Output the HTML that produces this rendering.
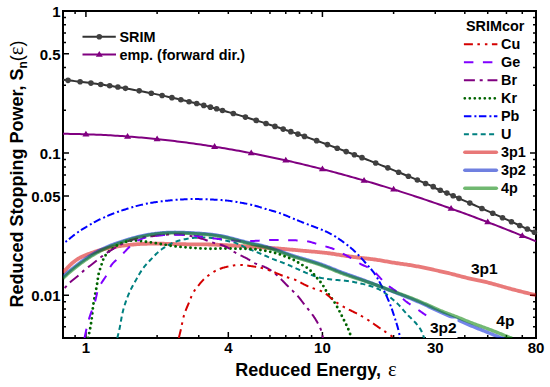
<!DOCTYPE html>
<html><head><meta charset="utf-8"><style>
html,body{margin:0;padding:0;background:#fff;width:550px;height:387px;overflow:hidden}
svg{display:block}
</style></head><body>
<svg width="550" height="387" viewBox="0 0 550 387">
<rect width="550" height="387" fill="#fff"/>
<path d="M75.10 338 v-3 M75.10 11 v3 M85.92 338 v-6 M85.92 11 v6 M157.11 338 v-3 M157.11 11 v3 M198.76 338 v-3 M198.76 11 v3 M228.31 338 v-6 M228.31 11 v3 M251.23 338 v-3 M251.23 11 v3 M269.95 338 v-3 M269.95 11 v3 M285.78 338 v-3 M285.78 11 v3 M299.50 338 v-3 M299.50 11 v3 M311.60 338 v-3 M311.60 11 v3 M322.42 338 v-6 M322.42 11 v6 M393.61 338 v-3 M393.61 11 v3 M435.26 338 v-6 M435.26 11 v3 M464.81 338 v-3 M464.81 11 v3 M487.73 338 v-3 M487.73 11 v3 M506.45 338 v-3 M506.45 11 v3 M522.28 338 v-3 M522.28 11 v3 M536.00 338 v-6 M536.00 11 v3 M63 326.75 h3 M536 326.75 h-3 M63 317.23 h3 M536 317.23 h-3 M63 308.99 h3 M536 308.99 h-3 M63 301.72 h3 M536 301.72 h-3 M63 295.22 h6 M536 295.22 h-6 M63 252.44 h3 M536 252.44 h-3 M63 227.42 h3 M536 227.42 h-3 M63 209.66 h3 M536 209.66 h-3 M63 195.89 h6 M536 195.89 h-3 M63 184.64 h3 M536 184.64 h-3 M63 175.12 h3 M536 175.12 h-3 M63 166.88 h3 M536 166.88 h-3 M63 159.61 h3 M536 159.61 h-3 M63 153.11 h6 M536 153.11 h-6 M63 110.33 h3 M536 110.33 h-3 M63 85.31 h3 M536 85.31 h-3 M63 67.55 h3 M536 67.55 h-3 M63 53.78 h6 M536 53.78 h-3 M63 42.53 h3 M536 42.53 h-3 M63 33.01 h3 M536 33.01 h-3 M63 24.77 h3 M536 24.77 h-3 M63 17.50 h3 M536 17.50 h-3 M63 11.00 h6 M536 11.00 h-6" stroke="#000" stroke-width="1.5" fill="none"/>
<rect x="63" y="11" width="473" height="327" stroke="#000" stroke-width="2" fill="none"/>
<g font-family='"Liberation Sans", sans-serif' font-weight="bold" font-size="15" fill="#000"><text x="60.5" y="17.2" text-anchor="end">1</text><text x="60.5" y="60.0" text-anchor="end">0.5</text><text x="60.5" y="159.3" text-anchor="end">0.1</text><text x="60.5" y="202.1" text-anchor="end">0.05</text><text x="60.5" y="301.4" text-anchor="end">0.01</text><text x="85.9" y="353.3" text-anchor="middle">1</text><text x="228.3" y="353.3" text-anchor="middle">4</text><text x="322.4" y="353.3" text-anchor="middle">10</text><text x="435.3" y="353.3" text-anchor="middle">30</text><text x="536.0" y="353.3" text-anchor="middle">80</text></g>
<text x="316" y="375.5" text-anchor="middle" font-family='"Liberation Sans", sans-serif' font-weight="bold" font-size="18">Reduced Energy, <tspan font-family="Liberation Serif" font-weight="normal" font-size="20.5" dx="2">ε</tspan></text>
<text transform="translate(23,174) rotate(-90)" text-anchor="middle" font-family='"Liberation Sans", sans-serif' font-weight="bold" font-size="18">Reduced Stopping Power, S<tspan font-size="12" dy="4">n</tspan><tspan dy="-4" font-weight="normal">(<tspan font-family="Liberation Serif" font-size="20.5">ε</tspan>)</tspan></text>
<path d="M63.00 79.86 L65.38 80.09 L67.75 80.34 L70.13 80.59 L72.51 80.85 L74.88 81.12 L77.26 81.39 L79.64 81.67 L82.02 81.95 L84.39 82.25 L86.77 82.54 L89.15 82.85 L91.52 83.16 L93.90 83.48 L96.28 83.81 L98.65 84.14 L101.03 84.48 L103.41 84.82 L105.78 85.18 L108.16 85.54 L110.54 85.90 L112.91 86.27 L115.29 86.65 L117.67 87.04 L120.05 87.43 L122.42 87.83 L124.80 88.24 L127.18 88.65 L129.55 89.07 L131.93 89.50 L134.31 89.93 L136.68 90.37 L139.06 90.81 L141.44 91.26 L143.81 91.72 L146.19 92.19 L148.57 92.66 L150.94 93.14 L153.32 93.62 L155.70 94.11 L158.08 94.61 L160.45 95.12 L162.83 95.63 L165.21 96.14 L167.58 96.67 L169.96 97.20 L172.34 97.73 L174.71 98.27 L177.09 98.82 L179.47 99.38 L181.84 99.94 L184.22 100.50 L186.60 101.08 L188.97 101.66 L191.35 102.24 L193.73 102.83 L196.11 103.43 L198.48 104.03 L200.86 104.64 L203.24 105.25 L205.61 105.87 L207.99 106.50 L210.37 107.13 L212.74 107.77 L215.12 108.41 L217.50 109.06 L219.87 109.72 L222.25 110.38 L224.63 111.04 L227.01 111.72 L229.38 112.39 L231.76 113.08 L234.14 113.76 L236.51 114.46 L238.89 115.15 L241.27 115.86 L243.64 116.57 L246.02 117.28 L248.40 118.00 L250.77 118.73 L253.15 119.46 L255.53 120.19 L257.90 120.93 L260.28 121.67 L262.66 122.42 L265.04 123.18 L267.41 123.94 L269.79 124.70 L272.17 125.47 L274.54 126.24 L276.92 127.02 L279.30 127.80 L281.67 128.59 L284.05 129.38 L286.43 130.18 L288.80 130.98 L291.18 131.79 L293.56 132.60 L295.93 133.41 L298.31 134.23 L300.69 135.05 L303.07 135.88 L305.44 136.71 L307.82 137.55 L310.20 138.39 L312.57 139.23 L314.95 140.08 L317.33 140.93 L319.70 141.79 L322.08 142.65 L324.46 143.51 L326.83 144.38 L329.21 145.25 L331.59 146.13 L333.96 147.01 L336.34 147.89 L338.72 148.78 L341.10 149.67 L343.47 150.56 L345.85 151.46 L348.23 152.36 L350.60 153.27 L352.98 154.18 L355.36 155.09 L357.73 156.00 L360.11 156.92 L362.49 157.84 L364.86 158.77 L367.24 159.70 L369.62 160.63 L371.99 161.57 L374.37 162.50 L376.75 163.45 L379.13 164.39 L381.50 165.34 L383.88 166.29 L386.26 167.24 L388.63 168.20 L391.01 169.16 L393.39 170.13 L395.76 171.09 L398.14 172.06 L400.52 173.03 L402.89 174.01 L405.27 174.99 L407.65 175.97 L410.03 176.95 L412.40 177.94 L414.78 178.93 L417.16 179.92 L419.53 180.91 L421.91 181.91 L424.29 182.91 L426.66 183.91 L429.04 184.92 L431.42 185.92 L433.79 186.93 L436.17 188.53 L438.55 189.54 L440.92 190.55 L443.30 191.57 L445.68 192.59 L448.06 193.61 L450.43 194.64 L452.81 195.66 L455.19 196.69 L457.56 197.73 L459.94 198.76 L462.32 199.80 L464.69 200.84 L467.07 201.88 L469.45 202.92 L471.82 203.97 L474.20 205.02 L476.58 206.07 L478.95 207.13 L481.33 208.18 L483.71 209.24 L486.09 210.30 L488.46 211.36 L490.84 212.43 L493.22 213.50 L495.59 214.56 L497.97 215.64 L500.35 216.71 L502.72 217.78 L505.10 218.86 L507.48 219.94 L509.85 221.02 L512.23 222.11 L514.61 223.19 L516.98 224.28 L519.36 225.37 L521.74 226.46 L524.12 227.55 L526.49 228.64 L528.87 229.74 L531.25 230.84 L533.62 231.94 L536.00 233.04" stroke="#333" stroke-width="2" fill="none"/>
<g fill="#404040"><circle cx="68.01" cy="80.37" r="2.8"/><circle cx="80.11" cy="81.72" r="2.8"/><circle cx="90.93" cy="83.08" r="2.8"/><circle cx="100.72" cy="84.43" r="2.8"/><circle cx="109.66" cy="85.77" r="2.8"/><circle cx="117.88" cy="87.07" r="2.8"/><circle cx="125.49" cy="88.36" r="2.8"/><circle cx="139.20" cy="90.84" r="2.8"/><circle cx="151.30" cy="93.21" r="2.8"/><circle cx="162.12" cy="95.47" r="2.8"/><circle cx="171.91" cy="97.64" r="2.8"/><circle cx="180.85" cy="99.70" r="2.8"/><circle cx="189.07" cy="101.68" r="2.8"/><circle cx="196.68" cy="103.57" r="2.8"/><circle cx="203.77" cy="105.39" r="2.8"/><circle cx="210.40" cy="107.14" r="2.8"/><circle cx="216.63" cy="108.82" r="2.8"/><circle cx="222.50" cy="110.45" r="2.8"/><circle cx="233.32" cy="113.53" r="2.8"/><circle cx="245.42" cy="117.10" r="2.8"/><circle cx="256.24" cy="120.41" r="2.8"/><circle cx="266.03" cy="123.49" r="2.8"/><circle cx="274.96" cy="126.38" r="2.8"/><circle cx="283.18" cy="129.10" r="2.8"/><circle cx="290.80" cy="131.66" r="2.8"/><circle cx="297.88" cy="134.08" r="2.8"/><circle cx="304.51" cy="136.39" r="2.8"/><circle cx="316.61" cy="140.67" r="2.8"/><circle cx="327.43" cy="144.60" r="2.8"/><circle cx="337.22" cy="148.22" r="2.8"/><circle cx="346.16" cy="151.58" r="2.8"/><circle cx="354.38" cy="154.71" r="2.8"/><circle cx="361.99" cy="157.65" r="2.8"/><circle cx="375.70" cy="163.03" r="2.8"/><circle cx="387.80" cy="167.87" r="2.8"/><circle cx="398.62" cy="172.26" r="2.8"/><circle cx="408.41" cy="176.28" r="2.8"/><circle cx="417.35" cy="180.00" r="2.8"/><circle cx="425.57" cy="183.45" r="2.8"/><circle cx="433.18" cy="186.67" r="2.8"/><circle cx="440.27" cy="190.28" r="2.8"/><circle cx="446.90" cy="193.11" r="2.8"/><circle cx="453.13" cy="195.80" r="2.8"/><circle cx="459.00" cy="198.35" r="2.8"/><circle cx="469.82" cy="203.09" r="2.8"/><circle cx="481.92" cy="208.44" r="2.8"/><circle cx="492.74" cy="213.28" r="2.8"/><circle cx="502.53" cy="217.70" r="2.8"/><circle cx="511.46" cy="221.76" r="2.8"/><circle cx="519.68" cy="225.51" r="2.8"/><circle cx="527.30" cy="229.01" r="2.8"/><circle cx="534.38" cy="232.29" r="2.8"/></g>
<path d="M63.00 133.83 L65.38 133.85 L67.75 133.87 L70.13 133.90 L72.51 133.94 L74.88 133.99 L77.26 134.04 L79.64 134.09 L82.02 134.15 L84.39 134.22 L86.77 134.30 L89.15 134.38 L91.52 134.46 L93.90 134.55 L96.28 134.65 L98.65 134.75 L101.03 134.86 L103.41 134.98 L105.78 135.10 L108.16 135.23 L110.54 135.36 L112.91 135.50 L115.29 135.64 L117.67 135.79 L120.05 135.95 L122.42 136.11 L124.80 136.28 L127.18 136.45 L129.55 136.63 L131.93 136.82 L134.31 137.01 L136.68 137.20 L139.06 137.40 L141.44 137.61 L143.81 137.82 L146.19 138.04 L148.57 138.27 L150.94 138.50 L153.32 138.73 L155.70 138.97 L158.08 139.22 L160.45 139.47 L162.83 139.73 L165.21 139.99 L167.58 140.26 L169.96 140.54 L172.34 140.82 L174.71 141.10 L177.09 141.40 L179.47 141.69 L181.84 141.99 L184.22 142.30 L186.60 142.61 L188.97 142.93 L191.35 143.26 L193.73 143.59 L196.11 143.92 L198.48 144.26 L200.86 144.61 L203.24 144.96 L205.61 145.31 L207.99 145.67 L210.37 146.04 L212.74 146.41 L215.12 146.79 L217.50 147.17 L219.87 147.56 L222.25 147.95 L224.63 148.35 L227.01 148.76 L229.38 149.17 L231.76 149.58 L234.14 150.00 L236.51 150.42 L238.89 150.85 L241.27 151.29 L243.64 151.73 L246.02 152.17 L248.40 152.62 L250.77 153.08 L253.15 153.54 L255.53 154.01 L257.90 154.48 L260.28 154.95 L262.66 155.43 L265.04 155.92 L267.41 156.41 L269.79 156.91 L272.17 157.41 L274.54 157.91 L276.92 158.42 L279.30 158.94 L281.67 159.46 L284.05 159.99 L286.43 160.52 L288.80 161.05 L291.18 161.59 L293.56 162.14 L295.93 162.69 L298.31 163.25 L300.69 163.81 L303.07 164.37 L305.44 164.94 L307.82 165.52 L310.20 166.10 L312.57 166.68 L314.95 167.27 L317.33 167.86 L319.70 168.46 L322.08 169.06 L324.46 169.67 L326.83 170.29 L329.21 170.90 L331.59 171.53 L333.96 172.15 L336.34 172.79 L338.72 173.42 L341.10 174.06 L343.47 174.71 L345.85 175.36 L348.23 176.01 L350.60 176.67 L352.98 177.34 L355.36 178.01 L357.73 178.68 L360.11 179.36 L362.49 180.04 L364.86 180.73 L367.24 181.42 L369.62 182.12 L371.99 182.82 L374.37 183.52 L376.75 184.23 L379.13 184.95 L381.50 185.67 L383.88 186.39 L386.26 187.12 L388.63 187.85 L391.01 188.59 L393.39 189.33 L395.76 190.07 L398.14 190.82 L400.52 191.58 L402.89 192.33 L405.27 193.10 L407.65 193.86 L410.03 194.63 L412.40 195.41 L414.78 196.19 L417.16 196.97 L419.53 197.76 L421.91 198.56 L424.29 199.35 L426.66 200.15 L429.04 200.96 L431.42 201.77 L433.79 202.58 L436.17 203.40 L438.55 204.22 L440.92 205.05 L443.30 205.88 L445.68 206.71 L448.06 207.55 L450.43 208.40 L452.81 209.24 L455.19 210.09 L457.56 210.95 L459.94 211.81 L462.32 212.67 L464.69 213.54 L467.07 214.41 L469.45 215.29 L471.82 216.17 L474.20 217.05 L476.58 217.94 L478.95 218.83 L481.33 219.72 L483.71 220.62 L486.09 221.53 L488.46 222.43 L490.84 223.34 L493.22 224.26 L495.59 225.18 L497.97 226.10 L500.35 227.03 L502.72 227.96 L505.10 228.89 L507.48 229.83 L509.85 230.77 L512.23 231.72 L514.61 232.67 L516.98 233.62 L519.36 234.58 L521.74 235.54 L524.12 236.50 L526.49 237.47 L528.87 238.44 L531.25 239.42 L533.62 240.40 L536.00 241.38" stroke="#800080" stroke-width="2" fill="none"/>
<path fill="#800080" d="M85.92 130.67 L89.42 136.47 L82.42 136.47Z M127.56 132.88 L131.06 138.68 L124.06 138.68Z M157.11 135.52 L160.61 141.32 L153.61 141.32Z M214.59 143.11 L218.09 148.91 L211.09 148.91Z M251.23 149.57 L254.73 155.37 L247.73 155.37Z M285.78 156.77 L289.28 162.57 L282.28 162.57Z M322.42 165.55 L325.92 171.35 L318.92 171.35Z M364.06 176.90 L367.56 182.70 L360.56 182.70Z M393.61 185.80 L397.11 191.60 L390.11 191.60Z M451.09 205.03 L454.59 210.83 L447.59 210.83Z M487.73 218.55 L491.23 224.35 L484.23 224.35Z M522.28 232.16 L525.78 237.96 L518.78 237.96Z"/>
<defs><clipPath id="pc"><rect x="63" y="11" width="473" height="327"/></clipPath></defs>
<g clip-path="url(#pc)" fill="none">
<path d="M63.01 272.51 L63.85 271.63 L64.69 270.74 L65.53 269.85 L66.37 268.95 L67.21 268.06 L68.06 267.18 L68.92 266.30 L69.78 265.44 L70.65 264.59 L71.54 263.76 L72.44 262.95 L73.36 262.17 L74.30 261.41 L75.27 260.68 L76.25 259.99 L77.26 259.33 L78.29 258.69 L79.34 258.09 L80.41 257.52 L81.50 256.97 L82.60 256.44 L83.71 255.93 L84.84 255.45 L85.97 254.98 L87.11 254.53 L88.26 254.09 L89.42 253.66 L90.57 253.25 L91.73 252.84 L92.89 252.44 L94.04 252.05 L95.20 251.67 L96.36 251.30 L97.53 250.93 L98.69 250.58 L99.86 250.24 L101.02 249.90 L102.19 249.58 L103.37 249.27 L104.54 248.97 L105.72 248.68 L106.90 248.41 L108.09 248.15 L109.28 247.90 L110.47 247.66 L111.66 247.43 L112.86 247.21 L114.06 247.00 L115.26 246.80 L116.46 246.60 L117.66 246.42 L118.87 246.24 L120.07 246.06 L121.28 245.90 L122.49 245.73 L123.69 245.57 L124.90 245.42 L126.11 245.27 L127.32 245.13 L128.53 244.99 L129.74 244.86 L130.95 244.73 L132.16 244.61 L133.37 244.50 L134.58 244.39 L135.79 244.29 L137.00 244.20 L138.22 244.11 L139.43 244.03 L140.64 243.97 L141.86 243.90 L143.07 243.85 L144.29 243.81 L145.50 243.77 L146.72 243.74 L147.94 243.71 L149.15 243.69 L150.37 243.68 L151.59 243.67 L152.80 243.66 L154.02 243.66 L155.24 243.67 L156.45 243.67 L157.67 243.68 L158.89 243.70 L160.10 243.71 L161.32 243.73 L162.54 243.75 L163.75 243.77 L164.97 243.80 L166.19 243.82 L167.40 243.85 L168.62 243.88 L169.83 243.91 L171.05 243.94 L172.26 243.97 L173.48 244.00 L174.70 244.03 L175.91 244.06 L177.13 244.09 L178.34 244.11 L179.56 244.14 L180.78 244.17 L181.99 244.19 L183.21 244.22 L184.42 244.24 L185.64 244.26 L186.86 244.28 L188.07 244.30 L189.29 244.31 L190.51 244.32 L191.72 244.33 L192.94 244.34 L194.15 244.35 L195.37 244.36 L196.59 244.36 L197.80 244.37 L199.02 244.38 L200.24 244.39 L201.45 244.39 L202.67 244.40 L203.89 244.42 L205.10 244.43 L206.32 244.45 L207.53 244.47 L208.75 244.49 L209.97 244.52 L211.18 244.55 L212.40 244.59 L213.61 244.62 L214.83 244.67 L216.04 244.71 L217.26 244.76 L218.47 244.81 L219.69 244.86 L220.90 244.92 L222.12 244.97 L223.33 245.03 L224.55 245.10 L225.76 245.16 L226.98 245.23 L228.19 245.30 L229.41 245.36 L230.62 245.44 L231.84 245.51 L233.05 245.58 L234.26 245.65 L235.48 245.73 L236.69 245.81 L237.91 245.88 L239.12 245.96 L240.34 246.03 L241.55 246.11 L242.76 246.19 L243.98 246.27 L245.19 246.35 L246.40 246.42 L247.62 246.50 L248.83 246.58 L250.05 246.66 L251.26 246.74 L252.47 246.82 L253.69 246.89 L254.90 246.97 L256.11 247.05 L257.33 247.13 L258.54 247.21 L259.76 247.28 L260.97 247.36 L262.18 247.44 L263.40 247.52 L264.61 247.59 L265.83 247.67 L267.04 247.75 L268.25 247.83 L269.47 247.91 L270.68 247.99 L271.89 248.08 L273.11 248.16 L274.32 248.24 L275.53 248.33 L276.75 248.42 L277.96 248.51 L279.17 248.61 L280.38 248.70 L281.60 248.80 L282.81 248.90 L284.02 249.00 L285.23 249.11 L286.44 249.21 L287.65 249.32 L288.87 249.43 L290.08 249.54 L291.29 249.65 L292.50 249.76 L293.71 249.87 L294.92 249.98 L296.13 250.09 L297.34 250.21 L298.55 250.32 L299.77 250.43 L300.98 250.54 L302.19 250.66 L303.40 250.77 L304.61 250.88 L305.82 250.99 L307.03 251.10 L308.25 251.20 L309.46 251.31 L310.67 251.41 L311.88 251.52 L313.10 251.63 L314.31 251.73 L315.52 251.84 L316.73 251.95 L317.94 252.06 L319.16 252.17 L320.37 252.29 L321.58 252.41 L322.79 252.54 L324.00 252.67 L325.20 252.80 L326.41 252.94 L327.62 253.09 L328.82 253.24 L330.03 253.41 L331.23 253.58 L332.44 253.75 L333.64 253.93 L334.84 254.12 L336.04 254.31 L337.24 254.51 L338.44 254.70 L339.64 254.90 L340.84 255.10 L342.04 255.29 L343.25 255.49 L344.45 255.68 L345.65 255.87 L346.85 256.05 L348.05 256.23 L349.26 256.40 L350.46 256.57 L351.67 256.73 L352.87 256.89 L354.08 257.05 L355.29 257.20 L356.49 257.35 L357.70 257.50 L358.91 257.64 L360.12 257.78 L361.33 257.92 L362.53 258.06 L363.74 258.20 L364.95 258.33 L366.16 258.47 L367.37 258.61 L368.58 258.75 L369.79 258.89 L371.00 259.04 L372.20 259.19 L373.41 259.34 L374.62 259.50 L375.82 259.67 L377.02 259.84 L378.23 260.02 L379.43 260.21 L380.63 260.41 L381.82 260.62 L383.02 260.83 L384.22 261.05 L385.41 261.27 L386.61 261.49 L387.81 261.71 L389.00 261.92 L390.20 262.13 L391.40 262.33 L392.60 262.52 L393.81 262.71 L395.01 262.89 L396.21 263.07 L397.42 263.25 L398.62 263.42 L399.82 263.59 L401.03 263.76 L402.23 263.93 L403.44 264.10 L404.64 264.27 L405.85 264.45 L407.05 264.63 L408.25 264.81 L409.45 265.00 L410.65 265.19 L411.85 265.40 L413.05 265.60 L414.25 265.82 L415.44 266.04 L416.64 266.26 L417.83 266.49 L419.03 266.72 L420.22 266.96 L421.41 267.20 L422.60 267.45 L423.79 267.70 L424.98 267.95 L426.17 268.20 L427.36 268.45 L428.55 268.71 L429.74 268.96 L430.93 269.22 L432.12 269.48 L433.31 269.73 L434.50 269.99 L435.69 270.25 L436.88 270.50 L438.07 270.76 L439.26 271.02 L440.44 271.29 L441.63 271.55 L442.82 271.82 L444.00 272.09 L445.19 272.36 L446.37 272.63 L447.56 272.91 L448.74 273.20 L449.92 273.48 L451.10 273.78 L452.28 274.07 L453.46 274.38 L454.64 274.68 L455.81 274.99 L456.99 275.30 L458.17 275.61 L459.34 275.92 L460.52 276.23 L461.70 276.54 L462.87 276.85 L464.05 277.15 L465.23 277.45 L466.41 277.75 L467.59 278.03 L468.77 278.31 L469.96 278.59 L471.15 278.85 L472.34 279.11 L473.53 279.36 L474.72 279.60 L475.91 279.85 L477.10 280.09 L478.29 280.33 L479.48 280.58 L480.67 280.83 L481.86 281.08 L483.05 281.35 L484.24 281.62 L485.42 281.90 L486.60 282.19 L487.78 282.48 L488.96 282.79 L490.13 283.09 L491.31 283.41 L492.48 283.73 L493.65 284.05 L494.83 284.38 L496.00 284.71 L497.17 285.04 L498.34 285.37 L499.51 285.71 L500.68 286.04 L501.85 286.38 L503.02 286.71 L504.19 287.05 L505.36 287.38 L506.53 287.71 L507.70 288.03 L508.88 288.35 L510.05 288.67 L511.22 288.99 L512.40 289.30 L513.58 289.62 L514.75 289.92 L515.93 290.23 L517.11 290.53 L518.29 290.84 L519.46 291.14 L520.64 291.43 L521.82 291.73 L523.00 292.02 L524.18 292.32 L525.36 292.61 L526.55 292.90 L527.73 293.19 L528.91 293.48 L530.09 293.77 L531.27 294.05 L532.45 294.34 L533.64 294.63 L534.82 294.91 L536.00 295.20" stroke="#d40000" stroke-opacity="0.52" stroke-width="3.8"/>
<path d="M62.98 277.03 L63.82 276.18 L64.67 275.34 L65.54 274.51 L66.41 273.69 L67.30 272.88 L68.19 272.09 L69.10 271.30 L70.01 270.53 L70.93 269.76 L71.86 269.00 L72.80 268.24 L73.74 267.50 L74.68 266.75 L75.63 266.02 L76.58 265.28 L77.53 264.55 L78.49 263.83 L79.45 263.11 L80.41 262.40 L81.38 261.69 L82.35 260.99 L83.33 260.29 L84.31 259.60 L85.30 258.92 L86.29 258.25 L87.29 257.58 L88.29 256.92 L89.30 256.27 L90.31 255.63 L91.33 255.00 L92.35 254.38 L93.39 253.77 L94.42 253.16 L95.47 252.57 L96.52 251.99 L97.57 251.41 L98.63 250.85 L99.70 250.30 L100.77 249.76 L101.85 249.23 L102.93 248.71 L104.01 248.20 L105.11 247.70 L106.20 247.22 L107.30 246.74 L108.41 246.28 L109.52 245.83 L110.64 245.38 L111.76 244.95 L112.88 244.53 L114.00 244.11 L115.13 243.70 L116.26 243.30 L117.40 242.91 L118.53 242.52 L119.67 242.14 L120.81 241.76 L121.95 241.38 L123.09 241.01 L124.24 240.65 L125.38 240.29 L126.53 239.93 L127.68 239.58 L128.83 239.24 L129.98 238.90 L131.13 238.56 L132.29 238.24 L133.45 237.92 L134.60 237.61 L135.77 237.30 L136.93 237.01 L138.09 236.72 L139.26 236.44 L140.43 236.17 L141.60 235.91 L142.78 235.66 L143.95 235.42 L145.13 235.19 L146.31 234.97 L147.50 234.75 L148.68 234.55 L149.87 234.36 L151.05 234.17 L152.24 234.00 L153.43 233.83 L154.62 233.67 L155.82 233.52 L157.01 233.38 L158.21 233.24 L159.40 233.11 L160.60 233.00 L161.80 232.89 L163.00 232.79 L164.20 232.70 L165.40 232.62 L166.60 232.55 L167.80 232.49 L169.00 232.44 L170.20 232.40 L171.40 232.36 L172.60 232.34 L173.80 232.33 L175.01 232.32 L176.21 232.33 L177.41 232.34 L178.61 232.36 L179.81 232.38 L181.01 232.42 L182.21 232.46 L183.42 232.50 L184.62 232.55 L185.82 232.60 L187.02 232.65 L188.22 232.71 L189.42 232.76 L190.62 232.82 L191.82 232.89 L193.02 232.95 L194.22 233.02 L195.42 233.09 L196.62 233.16 L197.82 233.23 L199.02 233.32 L200.22 233.40 L201.42 233.49 L202.61 233.58 L203.81 233.68 L205.01 233.78 L206.21 233.89 L207.40 234.01 L208.60 234.13 L209.79 234.25 L210.99 234.39 L212.18 234.53 L213.38 234.68 L214.57 234.84 L215.76 235.00 L216.95 235.18 L218.14 235.36 L219.32 235.56 L220.51 235.77 L221.69 235.98 L222.87 236.22 L224.04 236.46 L225.22 236.71 L226.39 236.98 L227.56 237.26 L228.72 237.54 L229.89 237.83 L231.05 238.13 L232.21 238.44 L233.38 238.75 L234.54 239.06 L235.70 239.37 L236.86 239.68 L238.02 239.99 L239.18 240.30 L240.34 240.61 L241.51 240.92 L242.67 241.22 L243.83 241.51 L245.00 241.81 L246.16 242.10 L247.33 242.38 L248.50 242.66 L249.67 242.94 L250.84 243.21 L252.01 243.47 L253.19 243.73 L254.36 243.98 L255.54 244.23 L256.71 244.47 L257.89 244.72 L259.07 244.97 L260.24 245.22 L261.41 245.48 L262.58 245.75 L263.75 246.03 L264.92 246.32 L266.08 246.63 L267.23 246.94 L268.39 247.27 L269.54 247.61 L270.69 247.97 L271.84 248.33 L272.98 248.70 L274.12 249.07 L275.26 249.46 L276.40 249.85 L277.54 250.24 L278.67 250.64 L279.80 251.04 L280.93 251.45 L282.07 251.85 L283.20 252.26 L284.33 252.67 L285.46 253.07 L286.59 253.48 L287.72 253.88 L288.86 254.28 L289.99 254.67 L291.13 255.05 L292.27 255.43 L293.41 255.81 L294.55 256.17 L295.70 256.53 L296.85 256.88 L298.00 257.22 L299.15 257.56 L300.30 257.89 L301.46 258.23 L302.61 258.56 L303.77 258.88 L304.93 259.21 L306.08 259.54 L307.24 259.88 L308.39 260.21 L309.54 260.55 L310.70 260.89 L311.85 261.24 L313.00 261.59 L314.14 261.95 L315.29 262.31 L316.43 262.68 L317.57 263.05 L318.71 263.44 L319.85 263.82 L320.98 264.22 L322.11 264.62 L323.24 265.04 L324.37 265.46 L325.49 265.88 L326.61 266.32 L327.73 266.75 L328.85 267.20 L329.96 267.64 L331.08 268.09 L332.19 268.54 L333.31 268.99 L334.42 269.44 L335.54 269.88 L336.65 270.33 L337.77 270.77 L338.89 271.21 L340.01 271.64 L341.13 272.07 L342.25 272.49 L343.38 272.91 L344.51 273.32 L345.64 273.72 L346.77 274.12 L347.91 274.52 L349.04 274.92 L350.18 275.31 L351.31 275.72 L352.45 276.13 L353.59 276.53 L354.73 276.94 L355.87 277.34 L357.00 277.75 L358.14 278.15 L359.28 278.56 L360.42 278.97 L361.55 279.38 L362.69 279.79 L363.82 280.21 L364.96 280.63 L366.09 281.05 L367.22 281.47 L368.35 281.90 L369.48 282.33 L370.61 282.76 L371.74 283.19 L372.87 283.63 L373.99 284.06 L375.12 284.50 L376.24 284.94 L377.37 285.39 L378.49 285.83 L379.61 286.28 L380.74 286.72 L381.86 287.17 L382.98 287.62 L384.10 288.07 L385.22 288.51 L386.34 288.96 L387.46 289.41 L388.58 289.86 L389.70 290.31 L390.83 290.75 L391.95 291.19 L393.07 291.63 L394.20 292.07 L395.32 292.51 L396.45 292.94 L397.57 293.38 L398.70 293.81 L399.82 294.25 L400.95 294.69 L402.07 295.13 L403.20 295.57 L404.32 296.01 L405.44 296.45 L406.56 296.90 L407.68 297.35 L408.80 297.80 L409.92 298.26 L411.03 298.72 L412.15 299.19 L413.26 299.66 L414.37 300.13 L415.48 300.61 L416.58 301.09 L417.69 301.58 L418.79 302.07 L419.90 302.56 L421.00 303.05 L422.10 303.55 L423.20 304.05 L424.29 304.56 L425.39 305.06 L426.48 305.57 L427.58 306.08 L428.67 306.60 L429.76 307.11 L430.86 307.63 L431.95 308.15 L433.04 308.67 L434.13 309.19 L435.22 309.71 L436.31 310.23 L437.40 310.74 L438.49 311.25 L439.59 311.76 L440.69 312.27 L441.79 312.79 L442.89 313.30 L444.00 313.81 L445.11 314.31 L446.22 314.81 L447.33 315.30 L448.44 315.80 L449.55 316.29 L450.66 316.78 L451.77 317.27 L452.89 317.77 L454.00 318.26 L455.11 318.75 L456.22 319.25 L457.33 319.75 L458.43 320.26 L459.54 320.76 L460.64 321.26 L461.75 321.75 L462.85 322.24 L463.96 322.73 L465.07 323.22 L466.17 323.71 L467.28 324.20 L468.39 324.68 L469.50 325.15 L470.61 325.62 L471.73 326.09 L472.85 326.55 L473.96 327.00 L475.08 327.46 L476.21 327.91 L477.33 328.35 L478.45 328.80 L479.58 329.24 L480.70 329.69 L481.83 330.13 L482.95 330.57 L484.08 331.02 L485.20 331.46 L486.32 331.91 L487.44 332.36 L488.56 332.81 L489.68 333.27 L490.80 333.71 L491.92 334.16 L493.04 334.60 L494.15 335.05 L495.27 335.49 L496.38 335.94 L497.50 336.39 L498.61 336.84 L499.73 337.29 L500.84 337.74 L501.96 338.19 L503.07 338.63 L504.19 339.08 L505.30 339.53 L506.42 339.97 L507.54 340.42 L508.65 340.86 L509.77 341.31 L510.88 341.75 L512.00 342.20" stroke="#0020d8" stroke-opacity="0.55" stroke-width="3.4"/>
<path d="M117.30 338.00 L117.55 337.03 L117.79 336.07 L118.03 335.10 L118.27 334.13 L118.51 333.17 L118.74 332.20 L118.97 331.23 L119.19 330.26 L119.40 329.28 L119.61 328.31 L119.81 327.33 L120.00 326.35 L120.18 325.37 L120.36 324.39 L120.53 323.41 L120.71 322.43 L120.88 321.45 L121.05 320.47 L121.22 319.48 L121.39 318.50 L121.57 317.52 L121.76 316.54 L121.95 315.57 L122.15 314.59 L122.36 313.62 L122.58 312.65 L122.81 311.68 L123.05 310.71 L123.30 309.75 L123.56 308.79 L123.83 307.83 L124.11 306.87 L124.40 305.92 L124.70 304.96 L125.00 304.01 L125.32 303.07 L125.64 302.12 L125.96 301.18 L126.30 300.24 L126.64 299.30 L126.98 298.37 L127.34 297.43 L127.70 296.50 L128.07 295.58 L128.45 294.66 L128.84 293.74 L129.24 292.83 L129.65 291.92 L130.07 291.02 L130.50 290.12 L130.94 289.23 L131.39 288.34 L131.86 287.46 L132.32 286.58 L132.80 285.70 L133.28 284.83 L133.77 283.96 L134.25 283.09 L134.74 282.22 L135.23 281.35 L135.72 280.48 L136.20 279.61 L136.69 278.74 L137.17 277.87 L137.65 276.99 L138.14 276.13 L138.63 275.26 L139.13 274.40 L139.64 273.54 L140.16 272.69 L140.69 271.85 L141.24 271.01 L141.79 270.18 L142.36 269.36 L142.94 268.55 L143.53 267.75 L144.14 266.96 L144.76 266.19 L145.40 265.42 L146.04 264.66 L146.70 263.91 L147.37 263.17 L148.04 262.44 L148.72 261.71 L149.41 260.99 L150.09 260.26 L150.78 259.54 L151.47 258.82 L152.16 258.10 L152.85 257.38 L153.54 256.65 L154.24 255.94 L154.94 255.22 L155.64 254.52 L156.35 253.82 L157.07 253.13 L157.80 252.45 L158.54 251.79 L159.30 251.15 L160.07 250.52 L160.86 249.91 L161.66 249.31 L162.47 248.73 L163.29 248.17 L164.12 247.61 L164.96 247.08 L165.81 246.55 L166.67 246.03 L167.53 245.53 L168.40 245.04 L169.28 244.57 L170.16 244.11 L171.05 243.66 L171.95 243.23 L172.86 242.82 L173.78 242.43 L174.70 242.06 L175.63 241.71 L176.57 241.38 L177.52 241.07 L178.47 240.77 L179.43 240.49 L180.39 240.23 L181.36 239.99 L182.33 239.76 L183.30 239.55 L184.28 239.34 L185.26 239.15 L186.24 238.97 L187.22 238.79 L188.20 238.62 L189.19 238.47 L190.17 238.32 L191.16 238.19 L192.15 238.07 L193.14 237.96 L194.13 237.87 L195.12 237.79 L196.12 237.73 L197.11 237.69 L198.11 237.65 L199.10 237.62 L200.10 237.60 L201.10 237.59 L202.10 237.59 L203.09 237.59 L204.09 237.60 L205.09 237.61 L206.09 237.62 L207.09 237.65 L208.08 237.69 L209.08 237.74 L210.07 237.80 L211.06 237.88 L212.05 237.98 L213.04 238.10 L214.02 238.24 L215.00 238.39 L215.98 238.56 L216.96 238.74 L217.93 238.94 L218.91 239.14 L219.88 239.35 L220.86 239.56 L221.83 239.78 L222.81 240.00 L223.78 240.21 L224.76 240.43 L225.74 240.64 L226.72 240.85 L227.70 241.05 L228.69 241.24 L229.67 241.44 L230.65 241.65 L231.62 241.86 L232.59 242.09 L233.56 242.34 L234.51 242.60 L235.46 242.90 L236.40 243.22 L237.32 243.58 L238.23 243.96 L239.13 244.38 L240.03 244.81 L240.92 245.26 L241.81 245.71 L242.70 246.17 L243.59 246.63 L244.48 247.08 L245.38 247.51 L246.28 247.93 L247.20 248.33 L248.11 248.72 L249.04 249.09 L249.96 249.46 L250.89 249.82 L251.82 250.17 L252.76 250.53 L253.69 250.89 L254.61 251.25 L255.54 251.61 L256.47 251.98 L257.39 252.35 L258.32 252.73 L259.24 253.11 L260.16 253.49 L261.07 253.88 L261.99 254.27 L262.90 254.67 L263.81 255.07 L264.72 255.48 L265.63 255.89 L266.54 256.29 L267.45 256.70 L268.36 257.10 L269.28 257.50 L270.19 257.90 L271.11 258.29 L272.03 258.67 L272.95 259.05 L273.87 259.42 L274.80 259.78 L275.74 260.13 L276.67 260.47 L277.61 260.82 L278.54 261.15 L279.48 261.49 L280.42 261.83 L281.35 262.17 L282.29 262.51 L283.22 262.86 L284.15 263.22 L285.08 263.58 L286.01 263.95 L286.93 264.33 L287.85 264.72 L288.76 265.11 L289.67 265.51 L290.59 265.91 L291.50 266.32 L292.40 266.73 L293.31 267.14 L294.22 267.55 L295.12 267.97 L296.03 268.38 L296.94 268.80 L297.84 269.21 L298.75 269.62 L299.66 270.03 L300.57 270.44 L301.48 270.85 L302.39 271.25 L303.30 271.65 L304.22 272.04 L305.13 272.43 L306.05 272.82 L306.97 273.20 L307.90 273.58 L308.82 273.95 L309.75 274.32 L310.68 274.67 L311.62 275.03 L312.55 275.37 L313.49 275.70 L314.44 276.02 L315.38 276.33 L316.34 276.63 L317.29 276.92 L318.25 277.19 L319.21 277.45 L320.18 277.69 L321.15 277.91 L322.12 278.12 L323.10 278.32 L324.07 278.50 L325.06 278.67 L326.04 278.82 L327.03 278.97 L328.02 279.10 L329.01 279.23 L330.00 279.35 L330.99 279.46 L331.98 279.56 L332.98 279.65 L333.97 279.74 L334.96 279.83 L335.96 279.91 L336.95 279.99 L337.94 280.07 L338.94 280.16 L339.93 280.24 L340.92 280.32 L341.91 280.41 L342.91 280.51 L343.90 280.61 L344.89 280.71 L345.88 280.83 L346.86 280.95 L347.85 281.09 L348.84 281.23 L349.82 281.37 L350.81 281.53 L351.79 281.69 L352.78 281.86 L353.76 282.03 L354.74 282.21 L355.72 282.40 L356.69 282.60 L357.67 282.80 L358.64 283.00 L359.61 283.21 L360.59 283.43 L361.56 283.65 L362.52 283.88 L363.49 284.12 L364.46 284.36 L365.42 284.61 L366.39 284.87 L367.35 285.14 L368.31 285.41 L369.27 285.70 L370.23 285.99 L371.19 286.29 L372.14 286.60 L373.09 286.92 L374.04 287.26 L374.98 287.61 L375.91 287.97 L376.83 288.36 L377.74 288.76 L378.65 289.18 L379.54 289.62 L380.41 290.09 L381.27 290.58 L382.12 291.09 L382.95 291.64 L383.77 292.20 L384.57 292.78 L385.37 293.38 L386.15 294.00 L386.93 294.63 L387.70 295.26 L388.47 295.90 L389.24 296.54 L390.01 297.18 L390.78 297.82 L391.55 298.46 L392.32 299.10 L393.09 299.73 L393.85 300.38 L394.61 301.02 L395.36 301.67 L396.11 302.34 L396.84 303.01 L397.56 303.69 L398.27 304.39 L398.96 305.10 L399.64 305.83 L400.31 306.56 L400.97 307.31 L401.62 308.06 L402.27 308.82 L402.92 309.58 L403.56 310.34 L404.21 311.10 L404.87 311.85 L405.52 312.60 L406.19 313.34 L406.87 314.07 L407.56 314.79 L408.25 315.50 L408.96 316.20 L409.66 316.90 L410.38 317.59 L411.09 318.29 L411.80 318.99 L412.52 319.68 L413.23 320.39 L413.93 321.10 L414.62 321.82 L415.31 322.55 L415.99 323.29 L416.65 324.04 L417.29 324.81 L417.92 325.59 L418.53 326.38 L419.11 327.19 L419.67 328.01 L420.21 328.85 L420.71 329.71 L421.18 330.58 L421.61 331.47 L422.02 332.38 L422.41 333.29 L422.77 334.22 L423.12 335.16 L423.46 336.10 L423.79 337.05 L424.11 337.99" stroke="#008080" stroke-width="2" stroke-dasharray="5 3.4" stroke-dashoffset="0" stroke-linecap="butt"/>
<path d="M88.10 338.00 L88.31 337.07 L88.52 336.15 L88.72 335.22 L88.93 334.29 L89.13 333.36 L89.33 332.43 L89.53 331.50 L89.72 330.57 L89.91 329.64 L90.10 328.71 L90.28 327.78 L90.45 326.84 L90.62 325.91 L90.78 324.97 L90.94 324.03 L91.09 323.09 L91.24 322.15 L91.38 321.21 L91.51 320.27 L91.64 319.33 L91.76 318.39 L91.87 317.45 L91.98 316.50 L92.08 315.56 L92.18 314.61 L92.28 313.67 L92.38 312.72 L92.47 311.77 L92.57 310.83 L92.67 309.88 L92.77 308.94 L92.88 308.00 L93.00 307.05 L93.12 306.11 L93.25 305.17 L93.38 304.23 L93.52 303.29 L93.67 302.35 L93.83 301.41 L93.99 300.48 L94.15 299.54 L94.32 298.60 L94.50 297.67 L94.67 296.74 L94.85 295.80 L95.03 294.87 L95.21 293.94 L95.40 293.00 L95.58 292.07 L95.77 291.14 L95.95 290.21 L96.14 289.28 L96.32 288.34 L96.49 287.41 L96.67 286.48 L96.84 285.54 L97.00 284.60 L97.16 283.67 L97.31 282.73 L97.45 281.79 L97.59 280.84 L97.72 279.90 L97.84 278.95 L97.96 278.01 L98.09 277.06 L98.23 276.12 L98.39 275.19 L98.57 274.25 L98.77 273.33 L98.99 272.41 L99.26 271.50 L99.55 270.60 L99.85 269.70 L100.17 268.81 L100.49 267.91 L100.80 267.01 L101.10 266.10 L101.38 265.19 L101.65 264.28 L101.93 263.37 L102.21 262.46 L102.50 261.55 L102.81 260.65 L103.15 259.77 L103.51 258.89 L103.92 258.03 L104.36 257.19 L104.84 256.37 L105.35 255.57 L105.90 254.80 L106.49 254.05 L107.12 253.34 L107.77 252.66 L108.46 252.00 L109.17 251.37 L109.89 250.74 L110.63 250.13 L111.37 249.53 L112.12 248.94 L112.87 248.34 L113.63 247.76 L114.40 247.19 L115.17 246.64 L115.96 246.11 L116.76 245.61 L117.58 245.13 L118.41 244.69 L119.26 244.27 L120.13 243.88 L121.00 243.52 L121.89 243.17 L122.79 242.84 L123.69 242.53 L124.60 242.23 L125.51 241.94 L126.43 241.65 L127.34 241.39 L128.27 241.15 L129.19 240.94 L130.12 240.77 L131.06 240.64 L132.00 240.55 L132.94 240.51 L133.89 240.50 L134.84 240.52 L135.80 240.57 L136.75 240.64 L137.70 240.72 L138.65 240.81 L139.59 240.90 L140.54 241.01 L141.48 241.12 L142.43 241.23 L143.37 241.35 L144.31 241.47 L145.26 241.59 L146.20 241.72 L147.14 241.84 L148.08 241.97 L149.02 242.10 L149.96 242.23 L150.90 242.37 L151.84 242.51 L152.78 242.65 L153.72 242.80 L154.66 242.95 L155.60 243.10 L156.54 243.26 L157.47 243.42 L158.41 243.58 L159.35 243.74 L160.28 243.91 L161.22 244.07 L162.15 244.24 L163.09 244.41 L164.02 244.58 L164.96 244.74 L165.89 244.91 L166.83 245.08 L167.77 245.25 L168.70 245.42 L169.64 245.58 L170.58 245.74 L171.51 245.89 L172.45 246.03 L173.39 246.16 L174.34 246.28 L175.28 246.39 L176.22 246.48 L177.17 246.58 L178.12 246.66 L179.06 246.75 L180.01 246.83 L180.96 246.92 L181.90 247.00 L182.85 247.09 L183.80 247.19 L184.74 247.28 L185.69 247.37 L186.63 247.46 L187.58 247.54 L188.53 247.62 L189.47 247.70 L190.42 247.77 L191.37 247.84 L192.32 247.90 L193.27 247.96 L194.21 248.02 L195.16 248.08 L196.11 248.14 L197.06 248.20 L198.01 248.25 L198.96 248.31 L199.91 248.36 L200.86 248.41 L201.81 248.46 L202.75 248.50 L203.70 248.54 L204.65 248.58 L205.60 248.61 L206.55 248.64 L207.50 248.66 L208.45 248.68 L209.40 248.69 L210.35 248.70 L211.30 248.70 L212.25 248.69 L213.20 248.68 L214.15 248.67 L215.11 248.65 L216.06 248.64 L217.01 248.62 L217.96 248.60 L218.91 248.58 L219.86 248.56 L220.81 248.54 L221.76 248.52 L222.71 248.51 L223.66 248.50 L224.61 248.50 L225.56 248.50 L226.51 248.50 L227.46 248.51 L228.41 248.52 L229.36 248.54 L230.31 248.55 L231.26 248.57 L232.21 248.58 L233.16 248.60 L234.11 248.62 L235.06 248.64 L236.01 248.66 L236.96 248.68 L237.91 248.69 L238.86 248.71 L239.81 248.72 L240.76 248.73 L241.71 248.74 L242.66 248.76 L243.61 248.77 L244.56 248.79 L245.51 248.80 L246.46 248.83 L247.41 248.85 L248.36 248.88 L249.31 248.92 L250.26 248.96 L251.21 249.01 L252.16 249.07 L253.11 249.13 L254.06 249.20 L255.00 249.28 L255.95 249.37 L256.90 249.47 L257.84 249.58 L258.78 249.70 L259.72 249.83 L260.66 249.98 L261.60 250.13 L262.54 250.29 L263.47 250.46 L264.40 250.63 L265.34 250.82 L266.27 251.01 L267.20 251.20 L268.13 251.40 L269.06 251.60 L269.99 251.80 L270.92 252.00 L271.85 252.21 L272.78 252.41 L273.71 252.63 L274.63 252.85 L275.55 253.08 L276.47 253.33 L277.39 253.59 L278.29 253.86 L279.19 254.15 L280.09 254.47 L280.98 254.80 L281.87 255.14 L282.75 255.49 L283.63 255.85 L284.51 256.21 L285.39 256.56 L286.28 256.92 L287.16 257.27 L288.05 257.61 L288.94 257.95 L289.83 258.29 L290.71 258.65 L291.59 259.01 L292.46 259.39 L293.31 259.80 L294.16 260.23 L294.99 260.68 L295.81 261.15 L296.62 261.63 L297.43 262.13 L298.24 262.63 L299.05 263.14 L299.87 263.63 L300.68 264.12 L301.51 264.60 L302.34 265.07 L303.18 265.53 L304.01 266.00 L304.84 266.47 L305.66 266.95 L306.47 267.45 L307.26 267.97 L308.02 268.52 L308.77 269.10 L309.49 269.71 L310.18 270.35 L310.86 271.01 L311.53 271.69 L312.17 272.39 L312.81 273.11 L313.43 273.83 L314.05 274.56 L314.67 275.29 L315.28 276.02 L315.89 276.75 L316.50 277.48 L317.12 278.20 L317.75 278.91 L318.38 279.63 L319.01 280.34 L319.64 281.06 L320.25 281.78 L320.86 282.51 L321.44 283.26 L322.01 284.02 L322.55 284.80 L323.06 285.59 L323.55 286.40 L324.03 287.22 L324.51 288.05 L324.98 288.87 L325.45 289.70 L325.94 290.51 L326.45 291.31 L326.98 292.10 L327.52 292.88 L328.08 293.65 L328.65 294.41 L329.23 295.16 L329.81 295.92 L330.39 296.67 L330.97 297.42 L331.55 298.18 L332.12 298.94 L332.67 299.71 L333.22 300.49 L333.75 301.28 L334.27 302.07 L334.78 302.88 L335.28 303.69 L335.77 304.50 L336.25 305.32 L336.72 306.15 L337.19 306.98 L337.64 307.81 L338.10 308.65 L338.54 309.49 L338.98 310.33 L339.42 311.18 L339.85 312.02 L340.28 312.87 L340.71 313.72 L341.14 314.57 L341.56 315.42 L341.98 316.27 L342.41 317.12 L342.83 317.97 L343.26 318.82 L343.69 319.67 L344.12 320.51 L344.56 321.36 L344.99 322.21 L345.43 323.05 L345.85 323.90 L346.28 324.75 L346.70 325.61 L347.10 326.46 L347.50 327.33 L347.88 328.19 L348.25 329.07 L348.61 329.95 L348.96 330.83 L349.29 331.72 L349.62 332.61 L349.94 333.51 L350.26 334.41 L350.57 335.30 L350.88 336.20 L351.19 337.10 L351.50 338.00" stroke="#006400" stroke-width="2.9" stroke-dasharray="0 5" stroke-dashoffset="0" stroke-linecap="round"/>
<path d="M63.01 243.61 L63.86 243.02 L64.70 242.42 L65.54 241.82 L66.37 241.20 L67.19 240.57 L68.00 239.93 L68.81 239.28 L69.62 238.63 L70.42 237.98 L71.23 237.33 L72.03 236.68 L72.84 236.03 L73.65 235.39 L74.47 234.76 L75.29 234.13 L76.12 233.51 L76.96 232.90 L77.80 232.30 L78.65 231.70 L79.50 231.12 L80.37 230.55 L81.23 229.99 L82.11 229.43 L82.98 228.88 L83.87 228.34 L84.75 227.80 L85.64 227.27 L86.53 226.74 L87.42 226.22 L88.31 225.69 L89.21 225.17 L90.10 224.65 L90.99 224.12 L91.89 223.60 L92.78 223.08 L93.68 222.56 L94.58 222.05 L95.49 221.55 L96.40 221.07 L97.32 220.60 L98.25 220.14 L99.18 219.69 L100.12 219.25 L101.06 218.82 L102.00 218.39 L102.95 217.97 L103.89 217.55 L104.84 217.12 L105.78 216.70 L106.73 216.28 L107.67 215.86 L108.62 215.45 L109.57 215.04 L110.52 214.64 L111.48 214.24 L112.44 213.86 L113.40 213.48 L114.37 213.12 L115.34 212.75 L116.31 212.40 L117.29 212.05 L118.26 211.71 L119.24 211.37 L120.22 211.04 L121.21 210.71 L122.19 210.38 L123.17 210.06 L124.16 209.75 L125.15 209.43 L126.13 209.12 L127.12 208.81 L128.11 208.50 L129.10 208.19 L130.09 207.89 L131.08 207.59 L132.08 207.30 L133.07 207.01 L134.07 206.72 L135.06 206.44 L136.06 206.16 L137.06 205.89 L138.06 205.63 L139.06 205.37 L140.06 205.12 L141.07 204.88 L142.08 204.65 L143.09 204.42 L144.10 204.20 L145.11 203.99 L146.12 203.78 L147.14 203.58 L148.16 203.39 L149.18 203.21 L150.20 203.03 L151.22 202.85 L152.24 202.68 L153.26 202.52 L154.28 202.36 L155.31 202.20 L156.33 202.05 L157.36 201.91 L158.38 201.76 L159.41 201.62 L160.43 201.49 L161.46 201.36 L162.49 201.23 L163.51 201.10 L164.54 200.98 L165.57 200.86 L166.60 200.75 L167.63 200.64 L168.66 200.53 L169.69 200.42 L170.72 200.32 L171.75 200.22 L172.78 200.13 L173.81 200.04 L174.84 199.95 L175.87 199.86 L176.90 199.78 L177.94 199.70 L178.97 199.63 L180.00 199.56 L181.03 199.49 L182.07 199.43 L183.10 199.38 L184.13 199.32 L185.17 199.28 L186.20 199.24 L187.24 199.20 L188.27 199.17 L189.31 199.14 L190.34 199.12 L191.38 199.11 L192.41 199.10 L193.45 199.09 L194.48 199.09 L195.52 199.09 L196.55 199.10 L197.59 199.11 L198.62 199.12 L199.66 199.13 L200.69 199.15 L201.73 199.18 L202.76 199.20 L203.79 199.23 L204.83 199.26 L205.86 199.29 L206.90 199.33 L207.93 199.36 L208.97 199.40 L210.00 199.44 L211.03 199.49 L212.07 199.53 L213.10 199.58 L214.14 199.63 L215.17 199.69 L216.20 199.74 L217.24 199.80 L218.27 199.86 L219.30 199.92 L220.34 199.99 L221.37 200.06 L222.40 200.14 L223.43 200.22 L224.46 200.31 L225.49 200.41 L226.52 200.52 L227.55 200.63 L228.58 200.75 L229.61 200.88 L230.63 201.02 L231.66 201.16 L232.68 201.31 L233.70 201.47 L234.72 201.63 L235.74 201.80 L236.77 201.97 L237.79 202.15 L238.81 202.33 L239.83 202.51 L240.85 202.69 L241.87 202.87 L242.89 203.05 L243.91 203.24 L244.92 203.43 L245.94 203.62 L246.96 203.82 L247.97 204.02 L248.99 204.23 L250.00 204.45 L251.01 204.68 L252.01 204.91 L253.02 205.16 L254.02 205.42 L255.02 205.68 L256.01 205.96 L257.01 206.25 L258.00 206.54 L258.99 206.84 L259.98 207.15 L260.97 207.45 L261.96 207.76 L262.94 208.07 L263.93 208.37 L264.92 208.68 L265.92 208.98 L266.91 209.27 L267.90 209.56 L268.90 209.85 L269.90 210.13 L270.89 210.41 L271.89 210.69 L272.88 210.98 L273.88 211.27 L274.87 211.56 L275.86 211.86 L276.85 212.17 L277.83 212.48 L278.81 212.81 L279.79 213.15 L280.76 213.50 L281.73 213.86 L282.70 214.23 L283.66 214.61 L284.62 214.99 L285.58 215.38 L286.54 215.78 L287.49 216.18 L288.45 216.58 L289.40 216.98 L290.35 217.39 L291.31 217.79 L292.26 218.19 L293.22 218.59 L294.18 218.98 L295.13 219.38 L296.09 219.77 L297.05 220.16 L298.01 220.54 L298.97 220.93 L299.93 221.31 L300.90 221.69 L301.86 222.07 L302.82 222.45 L303.79 222.82 L304.75 223.20 L305.72 223.57 L306.68 223.94 L307.65 224.31 L308.61 224.68 L309.58 225.05 L310.55 225.42 L311.51 225.79 L312.48 226.16 L313.45 226.52 L314.41 226.89 L315.38 227.26 L316.35 227.63 L317.32 228.00 L318.28 228.37 L319.25 228.75 L320.22 229.12 L321.18 229.50 L322.14 229.88 L323.10 230.27 L324.06 230.67 L325.01 231.08 L325.95 231.50 L326.89 231.93 L327.83 232.37 L328.75 232.83 L329.67 233.31 L330.59 233.80 L331.49 234.30 L332.39 234.81 L333.28 235.34 L334.17 235.87 L335.05 236.42 L335.93 236.97 L336.80 237.53 L337.66 238.10 L338.52 238.68 L339.38 239.26 L340.23 239.85 L341.08 240.44 L341.92 241.04 L342.76 241.65 L343.60 242.26 L344.43 242.87 L345.26 243.49 L346.09 244.12 L346.91 244.75 L347.72 245.38 L348.54 246.02 L349.34 246.67 L350.15 247.33 L350.94 247.99 L351.73 248.66 L352.51 249.34 L353.28 250.03 L354.05 250.72 L354.81 251.43 L355.56 252.14 L356.30 252.86 L357.04 253.59 L357.77 254.32 L358.49 255.07 L359.20 255.82 L359.91 256.57 L360.61 257.33 L361.31 258.09 L362.00 258.86 L362.69 259.64 L363.38 260.41 L364.06 261.19 L364.74 261.97 L365.43 262.74 L366.11 263.52 L366.80 264.30 L367.49 265.07 L368.18 265.84 L368.88 266.61 L369.56 267.39 L370.25 268.17 L370.92 268.95 L371.59 269.74 L372.25 270.54 L372.89 271.35 L373.51 272.17 L374.12 273.00 L374.71 273.85 L375.29 274.71 L375.85 275.58 L376.40 276.46 L376.93 277.34 L377.45 278.24 L377.97 279.14 L378.47 280.05 L378.97 280.96 L379.46 281.87 L379.95 282.79 L380.44 283.70 L380.92 284.62 L381.40 285.54 L381.87 286.46 L382.34 287.38 L382.81 288.31 L383.27 289.23 L383.73 290.16 L384.19 291.09 L384.64 292.02 L385.09 292.95 L385.53 293.88 L385.97 294.82 L386.41 295.76 L386.84 296.70 L387.26 297.64 L387.68 298.59 L388.10 299.54 L388.51 300.49 L388.91 301.44 L389.31 302.40 L389.70 303.36 L390.08 304.32 L390.46 305.28 L390.83 306.25 L391.19 307.22 L391.55 308.19 L391.89 309.16 L392.23 310.14 L392.57 311.12 L392.90 312.10 L393.22 313.08 L393.54 314.07 L393.86 315.05 L394.18 316.04 L394.49 317.02 L394.80 318.01 L395.12 319.00 L395.43 319.98 L395.75 320.97 L396.07 321.96 L396.38 322.94 L396.70 323.93 L397.00 324.92 L397.30 325.91 L397.60 326.90 L397.88 327.90 L398.15 328.89 L398.41 329.90 L398.66 330.90 L398.89 331.91 L399.11 332.92 L399.32 333.93 L399.52 334.95 L399.72 335.96 L399.91 336.98 L400.11 338.00" stroke="#0000ff" stroke-width="2" stroke-dasharray="7.5 3 2 2.5" stroke-dashoffset="7.6" stroke-linecap="butt"/>
<path d="M63.02 289.32 L63.63 288.80 L64.23 288.27 L64.82 287.74 L65.40 287.19 L65.97 286.63 L66.53 286.06 L67.07 285.47 L67.62 284.88 L68.16 284.29 L68.70 283.71 L69.25 283.13 L69.81 282.56 L70.39 282.02 L70.98 281.48 L71.59 280.97 L72.21 280.46 L72.83 279.96 L73.47 279.47 L74.10 278.98 L74.74 278.49 L75.37 278.00 L76.00 277.51 L76.62 277.01 L77.24 276.50 L77.85 275.97 L78.44 275.44 L79.03 274.90 L79.62 274.36 L80.20 273.81 L80.79 273.26 L81.37 272.72 L81.97 272.18 L82.57 271.65 L83.17 271.13 L83.78 270.61 L84.40 270.11 L85.02 269.60 L85.64 269.10 L86.27 268.61 L86.91 268.12 L87.54 267.63 L88.18 267.15 L88.82 266.67 L89.46 266.19 L90.11 265.72 L90.75 265.24 L91.39 264.76 L92.03 264.28 L92.67 263.80 L93.30 263.31 L93.93 262.82 L94.56 262.33 L95.19 261.83 L95.81 261.32 L96.42 260.81 L97.04 260.30 L97.65 259.79 L98.27 259.28 L98.88 258.77 L99.50 258.26 L100.12 257.76 L100.75 257.26 L101.38 256.77 L102.02 256.29 L102.66 255.82 L103.30 255.35 L103.95 254.88 L104.61 254.42 L105.27 253.97 L105.93 253.52 L106.59 253.08 L107.26 252.64 L107.93 252.20 L108.61 251.77 L109.28 251.34 L109.96 250.92 L110.65 250.49 L111.33 250.08 L112.02 249.66 L112.70 249.24 L113.39 248.83 L114.09 248.42 L114.78 248.01 L115.47 247.60 L116.17 247.20 L116.87 246.80 L117.56 246.40 L118.26 246.00 L118.97 245.61 L119.67 245.22 L120.38 244.84 L121.09 244.46 L121.80 244.09 L122.51 243.73 L123.23 243.37 L123.95 243.02 L124.68 242.68 L125.40 242.35 L126.13 242.03 L126.86 241.71 L127.60 241.41 L128.34 241.12 L129.09 240.83 L129.83 240.56 L130.59 240.31 L131.34 240.06 L132.10 239.82 L132.87 239.60 L133.63 239.38 L134.41 239.18 L135.18 238.99 L135.96 238.80 L136.73 238.62 L137.52 238.45 L138.30 238.29 L139.09 238.14 L139.88 237.99 L140.67 237.85 L141.46 237.71 L142.25 237.58 L143.05 237.46 L143.84 237.34 L144.64 237.22 L145.43 237.10 L146.23 236.99 L147.03 236.89 L147.83 236.78 L148.63 236.67 L149.42 236.57 L150.22 236.47 L151.02 236.36 L151.81 236.26 L152.61 236.16 L153.41 236.06 L154.20 235.96 L155.00 235.86 L155.79 235.77 L156.59 235.67 L157.38 235.58 L158.18 235.49 L158.97 235.40 L159.77 235.31 L160.56 235.23 L161.36 235.15 L162.15 235.07 L162.95 235.00 L163.74 234.93 L164.54 234.86 L165.33 234.79 L166.13 234.73 L166.93 234.68 L167.73 234.62 L168.52 234.58 L169.32 234.53 L170.12 234.49 L170.92 234.46 L171.72 234.43 L172.52 234.41 L173.33 234.39 L174.13 234.38 L174.93 234.38 L175.73 234.38 L176.53 234.39 L177.33 234.41 L178.14 234.43 L178.94 234.46 L179.74 234.50 L180.54 234.55 L181.33 234.61 L182.13 234.68 L182.93 234.76 L183.72 234.84 L184.51 234.94 L185.31 235.05 L186.10 235.17 L186.89 235.29 L187.67 235.43 L188.46 235.57 L189.24 235.73 L190.03 235.88 L190.81 236.05 L191.59 236.22 L192.38 236.39 L193.16 236.57 L193.94 236.75 L194.72 236.94 L195.50 237.12 L196.28 237.31 L197.05 237.50 L197.83 237.68 L198.61 237.87 L199.39 238.07 L200.16 238.26 L200.94 238.47 L201.71 238.68 L202.47 238.91 L203.24 239.15 L204.00 239.40 L204.75 239.66 L205.50 239.94 L206.25 240.22 L206.99 240.51 L207.74 240.80 L208.49 241.09 L209.23 241.37 L209.98 241.65 L210.74 241.92 L211.49 242.18 L212.25 242.42 L213.01 242.66 L213.78 242.89 L214.55 243.11 L215.31 243.33 L216.09 243.54 L216.86 243.76 L217.63 243.97 L218.41 244.18 L219.18 244.39 L219.96 244.61 L220.73 244.83 L221.50 245.06 L222.27 245.29 L223.03 245.54 L223.79 245.81 L224.54 246.09 L225.28 246.39 L226.01 246.71 L226.73 247.05 L227.43 247.42 L228.12 247.82 L228.79 248.24 L229.46 248.68 L230.12 249.13 L230.77 249.59 L231.43 250.06 L232.08 250.52 L232.74 250.98 L233.41 251.42 L234.08 251.85 L234.77 252.26 L235.46 252.67 L236.15 253.06 L236.85 253.45 L237.56 253.82 L238.27 254.19 L238.99 254.56 L239.70 254.91 L240.42 255.27 L241.14 255.62 L241.86 255.97 L242.58 256.31 L243.30 256.66 L244.02 257.02 L244.74 257.37 L245.45 257.73 L246.16 258.10 L246.87 258.48 L247.57 258.86 L248.26 259.26 L248.95 259.67 L249.64 260.09 L250.32 260.51 L251.00 260.94 L251.68 261.36 L252.36 261.78 L253.05 262.19 L253.74 262.59 L254.44 262.97 L255.15 263.33 L255.87 263.66 L256.60 263.97 L257.35 264.25 L258.10 264.53 L258.85 264.79 L259.61 265.05 L260.37 265.30 L261.13 265.57 L261.89 265.84 L262.64 266.12 L263.38 266.42 L264.12 266.73 L264.85 267.06 L265.58 267.40 L266.30 267.75 L267.01 268.12 L267.72 268.50 L268.42 268.89 L269.11 269.29 L269.79 269.71 L270.46 270.15 L271.12 270.59 L271.78 271.05 L272.42 271.52 L273.06 272.00 L273.69 272.50 L274.32 273.00 L274.93 273.51 L275.54 274.03 L276.15 274.56 L276.74 275.09 L277.34 275.63 L277.93 276.18 L278.51 276.73 L279.09 277.28 L279.66 277.84 L280.23 278.40 L280.80 278.97 L281.37 279.53 L281.93 280.10 L282.49 280.67 L283.05 281.24 L283.61 281.81 L284.17 282.39 L284.73 282.96 L285.28 283.53 L285.84 284.11 L286.40 284.68 L286.96 285.25 L287.52 285.82 L288.09 286.39 L288.65 286.95 L289.22 287.52 L289.79 288.08 L290.37 288.63 L290.94 289.19 L291.52 289.74 L292.10 290.29 L292.68 290.85 L293.26 291.40 L293.83 291.96 L294.40 292.52 L294.97 293.08 L295.53 293.65 L296.09 294.23 L296.63 294.81 L297.17 295.40 L297.70 296.00 L298.22 296.60 L298.73 297.22 L299.24 297.84 L299.74 298.46 L300.23 299.09 L300.72 299.72 L301.21 300.35 L301.70 300.99 L302.18 301.63 L302.67 302.26 L303.16 302.90 L303.64 303.53 L304.13 304.17 L304.63 304.80 L305.13 305.42 L305.63 306.05 L306.13 306.67 L306.64 307.29 L307.14 307.91 L307.65 308.53 L308.15 309.15 L308.66 309.78 L309.16 310.40 L309.66 311.02 L310.15 311.65 L310.64 312.28 L311.13 312.92 L311.61 313.55 L312.08 314.20 L312.55 314.85 L313.01 315.50 L313.47 316.16 L313.92 316.82 L314.36 317.49 L314.80 318.16 L315.23 318.83 L315.65 319.51 L316.07 320.19 L316.48 320.88 L316.88 321.57 L317.28 322.27 L317.67 322.97 L318.06 323.68 L318.44 324.38 L318.81 325.10 L319.17 325.82 L319.52 326.54 L319.86 327.26 L320.18 328.00 L320.49 328.73 L320.78 329.48 L321.06 330.23 L321.31 330.98 L321.55 331.74 L321.76 332.51 L321.96 333.29 L322.14 334.06 L322.31 334.85 L322.47 335.63 L322.62 336.42 L322.77 337.21 L322.91 338.00" stroke="#800080" stroke-width="2" stroke-dasharray="11 4.8 3 4.8" stroke-dashoffset="13.8" stroke-linecap="butt"/>
<path d="M84.50 338.00 L84.74 336.87 L84.99 335.74 L85.23 334.62 L85.47 333.49 L85.71 332.36 L85.95 331.23 L86.20 330.10 L86.44 328.97 L86.70 327.85 L86.96 326.72 L87.22 325.60 L87.50 324.48 L87.78 323.36 L88.07 322.24 L88.37 321.13 L88.69 320.02 L89.01 318.91 L89.34 317.80 L89.69 316.70 L90.05 315.60 L90.42 314.51 L90.80 313.42 L91.20 312.34 L91.60 311.25 L92.01 310.18 L92.43 309.10 L92.84 308.02 L93.25 306.94 L93.65 305.85 L94.04 304.77 L94.41 303.68 L94.76 302.58 L95.09 301.47 L95.39 300.36 L95.67 299.23 L95.93 298.11 L96.18 296.98 L96.43 295.84 L96.68 294.71 L96.94 293.59 L97.23 292.47 L97.54 291.37 L97.89 290.28 L98.29 289.20 L98.73 288.14 L99.20 287.09 L99.72 286.06 L100.26 285.04 L100.84 284.04 L101.44 283.04 L102.05 282.06 L102.69 281.08 L103.33 280.12 L103.99 279.16 L104.64 278.20 L105.29 277.24 L105.92 276.27 L106.53 275.29 L107.11 274.30 L107.65 273.28 L108.15 272.23 L108.60 271.17 L109.04 270.09 L109.47 269.01 L109.91 267.94 L110.39 266.90 L110.92 265.90 L111.53 264.94 L112.21 264.04 L112.96 263.17 L113.76 262.35 L114.60 261.55 L115.47 260.76 L116.34 259.99 L117.22 259.22 L118.09 258.43 L118.94 257.64 L119.77 256.84 L120.60 256.03 L121.42 255.22 L122.22 254.40 L123.03 253.57 L123.82 252.74 L124.62 251.90 L125.41 251.07 L126.20 250.23 L126.99 249.39 L127.79 248.56 L128.61 247.74 L129.43 246.93 L130.27 246.14 L131.13 245.36 L132.01 244.61 L132.91 243.88 L133.83 243.18 L134.78 242.51 L135.74 241.86 L136.73 241.25 L137.73 240.66 L138.75 240.11 L139.79 239.60 L140.84 239.13 L141.91 238.69 L142.99 238.29 L144.09 237.92 L145.19 237.59 L146.31 237.29 L147.43 237.02 L148.57 236.78 L149.70 236.55 L150.84 236.35 L151.98 236.16 L153.12 235.99 L154.27 235.84 L155.41 235.71 L156.56 235.58 L157.71 235.47 L158.86 235.37 L160.01 235.29 L161.17 235.21 L162.32 235.14 L163.47 235.07 L164.63 235.01 L165.78 234.96 L166.93 234.91 L168.09 234.87 L169.24 234.83 L170.40 234.80 L171.55 234.78 L172.71 234.76 L173.86 234.74 L175.01 234.74 L176.17 234.74 L177.32 234.75 L178.47 234.77 L179.63 234.79 L180.78 234.83 L181.93 234.87 L183.09 234.92 L184.24 234.98 L185.39 235.04 L186.54 235.11 L187.70 235.19 L188.85 235.27 L190.00 235.36 L191.15 235.46 L192.30 235.56 L193.45 235.66 L194.60 235.77 L195.75 235.88 L196.90 235.99 L198.04 236.11 L199.19 236.24 L200.34 236.37 L201.48 236.52 L202.63 236.68 L203.77 236.84 L204.91 237.02 L206.05 237.20 L207.19 237.38 L208.33 237.56 L209.47 237.74 L210.61 237.92 L211.75 238.09 L212.89 238.26 L214.04 238.41 L215.18 238.55 L216.33 238.68 L217.48 238.79 L218.63 238.89 L219.77 239.00 L220.92 239.10 L222.07 239.21 L223.22 239.33 L224.37 239.46 L225.51 239.60 L226.66 239.74 L227.80 239.88 L228.95 240.02 L230.10 240.16 L231.24 240.30 L232.39 240.43 L233.54 240.55 L234.68 240.66 L235.83 240.76 L236.99 240.85 L238.14 240.92 L239.29 240.99 L240.44 241.04 L241.60 241.08 L242.75 241.12 L243.91 241.14 L245.06 241.15 L246.22 241.16 L247.37 241.15 L248.53 241.14 L249.68 241.11 L250.84 241.08 L251.99 241.04 L253.15 240.99 L254.30 240.93 L255.45 240.86 L256.60 240.79 L257.76 240.72 L258.91 240.65 L260.06 240.57 L261.21 240.50 L262.36 240.42 L263.51 240.36 L264.67 240.29 L265.82 240.24 L266.97 240.19 L268.13 240.15 L269.28 240.11 L270.43 240.08 L271.59 240.05 L272.74 240.03 L273.90 240.02 L275.05 240.01 L276.20 240.00 L277.36 240.00 L278.51 240.00 L279.66 240.00 L280.81 240.01 L281.96 240.02 L283.12 240.04 L284.27 240.06 L285.42 240.08 L286.57 240.10 L287.73 240.13 L288.88 240.16 L290.04 240.19 L291.20 240.22 L292.35 240.26 L293.51 240.29 L294.67 240.33 L295.83 240.37 L297.00 240.42 L298.16 240.47 L299.32 240.54 L300.48 240.61 L301.63 240.70 L302.79 240.80 L303.94 240.92 L305.09 241.05 L306.23 241.21 L307.37 241.38 L308.50 241.59 L309.63 241.81 L310.75 242.07 L311.87 242.35 L312.97 242.67 L314.07 243.01 L315.17 243.37 L316.27 243.73 L317.36 244.09 L318.47 244.43 L319.57 244.76 L320.68 245.08 L321.79 245.39 L322.90 245.70 L324.02 246.01 L325.13 246.31 L326.24 246.62 L327.35 246.94 L328.46 247.26 L329.57 247.59 L330.67 247.94 L331.77 248.31 L332.85 248.70 L333.93 249.12 L334.99 249.56 L336.04 250.04 L337.07 250.55 L338.09 251.08 L339.11 251.62 L340.12 252.18 L341.13 252.74 L342.14 253.31 L343.15 253.87 L344.16 254.42 L345.19 254.96 L346.22 255.48 L347.26 255.99 L348.29 256.51 L349.32 257.03 L350.34 257.56 L351.34 258.13 L352.33 258.72 L353.30 259.34 L354.27 259.98 L355.22 260.62 L356.18 261.27 L357.14 261.91 L358.11 262.54 L359.09 263.15 L360.09 263.73 L361.11 264.27 L362.14 264.78 L363.19 265.27 L364.25 265.74 L365.31 266.21 L366.36 266.68 L367.41 267.17 L368.43 267.69 L369.44 268.24 L370.41 268.84 L371.36 269.48 L372.28 270.16 L373.18 270.88 L374.05 271.63 L374.91 272.41 L375.75 273.21 L376.57 274.03 L377.38 274.87 L378.18 275.72 L378.98 276.58 L379.76 277.45 L380.55 278.31 L381.33 279.18 L382.11 280.04 L382.91 280.88 L383.71 281.72 L384.52 282.54 L385.35 283.33 L386.20 284.11 L387.07 284.86 L387.96 285.58 L388.89 286.26 L389.84 286.92 L390.80 287.56 L391.77 288.19 L392.74 288.83 L393.70 289.48 L394.64 290.15 L395.55 290.85 L396.42 291.59 L397.25 292.38 L398.05 293.21 L398.82 294.06 L399.57 294.94 L400.33 295.82 L401.08 296.70 L401.85 297.56 L402.64 298.40 L403.46 299.20 L404.31 299.98 L405.18 300.73 L406.07 301.46 L406.98 302.16 L407.91 302.85 L408.85 303.52 L409.81 304.18 L410.77 304.84 L411.73 305.48 L412.70 306.12 L413.67 306.76 L414.64 307.40 L415.60 308.05 L416.56 308.70 L417.51 309.36 L418.46 310.01 L419.41 310.68 L420.35 311.34 L421.30 312.00 L422.24 312.66 L423.18 313.32 L424.13 313.98 L425.08 314.63 L426.03 315.28 L426.99 315.93 L427.94 316.57 L428.91 317.20 L429.87 317.83 L430.84 318.46 L431.82 319.08 L432.79 319.70 L433.78 320.30 L434.76 320.91 L435.75 321.51 L436.74 322.10 L437.73 322.69 L438.73 323.27 L439.73 323.85 L440.73 324.42 L441.74 324.98 L442.75 325.54 L443.76 326.09 L444.78 326.65 L445.79 327.19 L446.81 327.74 L447.83 328.28 L448.85 328.81 L449.87 329.35 L450.90 329.88 L451.92 330.41 L452.95 330.94 L453.97 331.47 L455.00 332.00" stroke="#8000ff" stroke-width="2" stroke-dasharray="9.5 9.5" stroke-dashoffset="0" stroke-linecap="butt"/>
<path d="M178.80 338.00 L178.97 337.33 L179.14 336.66 L179.30 335.98 L179.47 335.31 L179.63 334.64 L179.80 333.96 L179.96 333.29 L180.13 332.62 L180.29 331.94 L180.45 331.27 L180.60 330.60 L180.76 329.92 L180.91 329.24 L181.06 328.57 L181.21 327.89 L181.36 327.21 L181.50 326.54 L181.64 325.86 L181.78 325.18 L181.91 324.50 L182.05 323.82 L182.18 323.14 L182.31 322.46 L182.45 321.78 L182.59 321.10 L182.73 320.42 L182.88 319.74 L183.03 319.07 L183.19 318.39 L183.35 317.72 L183.52 317.05 L183.71 316.38 L183.90 315.72 L184.10 315.05 L184.30 314.39 L184.52 313.73 L184.74 313.07 L184.96 312.42 L185.20 311.77 L185.44 311.12 L185.69 310.47 L185.94 309.82 L186.19 309.18 L186.46 308.54 L186.72 307.90 L186.99 307.26 L187.26 306.62 L187.53 305.99 L187.81 305.35 L188.08 304.71 L188.35 304.08 L188.62 303.44 L188.89 302.80 L189.15 302.15 L189.41 301.51 L189.66 300.86 L189.92 300.21 L190.17 299.56 L190.41 298.91 L190.67 298.26 L190.92 297.62 L191.18 296.97 L191.44 296.33 L191.71 295.69 L191.99 295.06 L192.28 294.43 L192.59 293.82 L192.90 293.20 L193.23 292.60 L193.58 292.01 L193.95 291.42 L194.32 290.85 L194.71 290.28 L195.11 289.71 L195.52 289.16 L195.94 288.60 L196.37 288.05 L196.80 287.51 L197.24 286.97 L197.68 286.43 L198.12 285.89 L198.56 285.35 L199.00 284.81 L199.44 284.27 L199.88 283.73 L200.32 283.19 L200.77 282.66 L201.21 282.13 L201.67 281.60 L202.12 281.08 L202.59 280.58 L203.07 280.07 L203.55 279.58 L204.05 279.10 L204.56 278.63 L205.07 278.17 L205.60 277.72 L206.13 277.28 L206.67 276.84 L207.21 276.41 L207.76 275.98 L208.31 275.56 L208.87 275.15 L209.43 274.74 L209.99 274.33 L210.56 273.92 L211.13 273.53 L211.70 273.13 L212.28 272.75 L212.86 272.37 L213.45 272.01 L214.04 271.65 L214.64 271.30 L215.24 270.97 L215.86 270.64 L216.48 270.33 L217.10 270.03 L217.73 269.74 L218.37 269.46 L219.01 269.19 L219.65 268.94 L220.30 268.69 L220.95 268.46 L221.61 268.23 L222.27 268.02 L222.93 267.82 L223.59 267.63 L224.26 267.44 L224.93 267.27 L225.60 267.10 L226.28 266.94 L226.96 266.78 L227.63 266.63 L228.31 266.49 L228.99 266.35 L229.68 266.21 L230.36 266.07 L231.04 265.94 L231.73 265.82 L232.41 265.69 L233.10 265.57 L233.79 265.46 L234.47 265.36 L235.16 265.27 L235.85 265.18 L236.54 265.11 L237.23 265.04 L237.92 264.99 L238.61 264.95 L239.30 264.93 L239.99 264.92 L240.68 264.93 L241.37 264.95 L242.06 264.98 L242.74 265.03 L243.43 265.09 L244.12 265.16 L244.81 265.24 L245.50 265.32 L246.19 265.42 L246.88 265.51 L247.56 265.61 L248.25 265.72 L248.94 265.82 L249.63 265.93 L250.32 266.03 L251.00 266.13 L251.69 266.23 L252.38 266.33 L253.06 266.43 L253.75 266.53 L254.43 266.63 L255.12 266.73 L255.80 266.84 L256.49 266.95 L257.17 267.07 L257.85 267.19 L258.53 267.31 L259.21 267.45 L259.89 267.59 L260.57 267.73 L261.24 267.89 L261.92 268.05 L262.59 268.21 L263.26 268.38 L263.93 268.56 L264.60 268.75 L265.27 268.94 L265.93 269.14 L266.60 269.34 L267.26 269.55 L267.92 269.77 L268.57 270.00 L269.23 270.23 L269.88 270.46 L270.53 270.70 L271.17 270.95 L271.82 271.20 L272.46 271.46 L273.11 271.72 L273.75 271.99 L274.39 272.25 L275.02 272.52 L275.66 272.80 L276.30 273.07 L276.94 273.34 L277.57 273.61 L278.21 273.89 L278.85 274.16 L279.49 274.43 L280.13 274.69 L280.77 274.96 L281.41 275.22 L282.05 275.48 L282.70 275.73 L283.34 275.97 L283.99 276.22 L284.65 276.45 L285.30 276.68 L285.96 276.90 L286.62 277.11 L287.28 277.32 L287.95 277.52 L288.62 277.71 L289.28 277.90 L289.95 278.10 L290.62 278.29 L291.29 278.49 L291.95 278.69 L292.61 278.89 L293.27 279.11 L293.93 279.33 L294.58 279.56 L295.22 279.81 L295.86 280.07 L296.49 280.34 L297.12 280.63 L297.73 280.94 L298.35 281.26 L298.96 281.58 L299.56 281.92 L300.17 282.26 L300.77 282.60 L301.37 282.94 L301.98 283.28 L302.59 283.62 L303.20 283.95 L303.81 284.27 L304.43 284.58 L305.05 284.89 L305.68 285.19 L306.30 285.49 L306.93 285.77 L307.57 286.06 L308.20 286.33 L308.84 286.60 L309.48 286.87 L310.12 287.13 L310.77 287.38 L311.42 287.63 L312.07 287.88 L312.72 288.11 L313.37 288.35 L314.03 288.58 L314.69 288.81 L315.35 289.03 L316.01 289.24 L316.67 289.46 L317.33 289.68 L317.99 289.90 L318.64 290.13 L319.30 290.36 L319.95 290.60 L320.59 290.86 L321.22 291.13 L321.85 291.42 L322.47 291.72 L323.08 292.05 L323.68 292.39 L324.27 292.75 L324.85 293.12 L325.42 293.51 L325.99 293.91 L326.55 294.33 L327.10 294.75 L327.64 295.18 L328.18 295.62 L328.71 296.07 L329.24 296.52 L329.76 296.98 L330.28 297.44 L330.80 297.90 L331.32 298.35 L331.85 298.80 L332.38 299.25 L332.91 299.69 L333.45 300.13 L333.99 300.56 L334.54 300.98 L335.09 301.40 L335.65 301.81 L336.22 302.22 L336.78 302.61 L337.35 303.01 L337.93 303.40 L338.51 303.78 L339.09 304.16 L339.68 304.53 L340.27 304.89 L340.86 305.26 L341.46 305.61 L342.06 305.96 L342.66 306.31 L343.26 306.65 L343.87 306.99 L344.48 307.32 L345.09 307.65 L345.70 307.98 L346.32 308.30 L346.93 308.61 L347.55 308.93 L348.17 309.24 L348.79 309.55 L349.41 309.86 L350.03 310.16 L350.66 310.47 L351.28 310.77 L351.90 311.07 L352.52 311.38 L353.15 311.68 L353.77 311.98 L354.39 312.29 L355.01 312.60 L355.63 312.91 L356.25 313.22 L356.87 313.53 L357.48 313.85 L358.10 314.17 L358.71 314.49 L359.32 314.82 L359.93 315.15 L360.54 315.49 L361.14 315.82 L361.75 316.16 L362.35 316.51 L362.95 316.85 L363.55 317.20 L364.14 317.56 L364.74 317.91 L365.33 318.27 L365.92 318.64 L366.51 319.00 L367.10 319.37 L367.68 319.75 L368.26 320.12 L368.84 320.50 L369.42 320.88 L369.99 321.27 L370.57 321.66 L371.14 322.05 L371.71 322.45 L372.28 322.84 L372.84 323.24 L373.41 323.64 L373.98 324.04 L374.54 324.44 L375.11 324.84 L375.67 325.24 L376.24 325.64 L376.80 326.04 L377.37 326.44 L377.94 326.84 L378.51 327.23 L379.08 327.63 L379.65 328.02 L380.22 328.41 L380.80 328.79 L381.38 329.18 L381.95 329.56 L382.53 329.94 L383.11 330.32 L383.69 330.70 L384.27 331.08 L384.85 331.46 L385.43 331.84 L386.01 332.22 L386.58 332.60 L387.16 332.99 L387.73 333.38 L388.30 333.78 L388.87 334.18 L389.43 334.58 L389.99 334.99 L390.54 335.40 L391.10 335.81 L391.65 336.23 L392.20 336.65 L392.75 337.07 L393.30 337.49" stroke="#d40000" stroke-width="2" stroke-dasharray="9 4.5 2.5 5 2.5 4.5" stroke-dashoffset="0" stroke-linecap="butt"/>
<rect x="426" y="318.5" width="31.5" height="20" fill="#fff"/>
<path d="M62.98 278.53 L63.82 277.67 L64.67 276.82 L65.54 275.98 L66.41 275.15 L67.30 274.34 L68.19 273.53 L69.10 272.74 L70.01 271.95 L70.93 271.17 L71.86 270.40 L72.80 269.64 L73.74 268.88 L74.68 268.13 L75.63 267.38 L76.58 266.63 L77.53 265.90 L78.49 265.16 L79.45 264.43 L80.41 263.71 L81.38 262.99 L82.35 262.28 L83.33 261.57 L84.31 260.87 L85.30 260.18 L86.29 259.49 L87.29 258.82 L88.29 258.15 L89.30 257.49 L90.31 256.84 L91.33 256.19 L92.35 255.56 L93.39 254.94 L94.42 254.32 L95.47 253.72 L96.52 253.12 L97.57 252.54 L98.63 251.96 L99.70 251.40 L100.77 250.85 L101.85 250.31 L102.93 249.77 L104.01 249.25 L105.11 248.75 L106.20 248.25 L107.30 247.76 L108.41 247.29 L109.52 246.82 L110.64 246.37 L111.76 245.92 L112.88 245.48 L114.00 245.06 L115.13 244.64 L116.26 244.22 L117.40 243.82 L118.53 243.41 L119.67 243.02 L120.81 242.63 L121.95 242.24 L123.09 241.86 L124.24 241.48 L125.38 241.11 L126.53 240.74 L127.68 240.38 L128.83 240.02 L129.98 239.67 L131.13 239.32 L132.29 238.98 L133.45 238.65 L134.60 238.33 L135.77 238.01 L136.93 237.70 L138.09 237.40 L139.26 237.11 L140.43 236.83 L141.60 236.56 L142.78 236.29 L143.95 236.04 L145.13 235.80 L146.31 235.56 L147.50 235.33 L148.68 235.12 L149.87 234.91 L151.05 234.71 L152.24 234.53 L153.43 234.35 L154.62 234.18 L155.82 234.02 L157.01 233.88 L158.21 233.75 L159.40 233.62 L160.60 233.51 L161.80 233.41 L163.00 233.31 L164.20 233.22 L165.40 233.15 L166.60 233.08 L167.80 233.02 L169.00 232.97 L170.20 232.93 L171.40 232.90 L172.60 232.88 L173.80 232.87 L175.01 232.87 L176.21 232.88 L177.41 232.90 L178.61 232.92 L179.81 232.95 L181.01 232.98 L182.21 233.03 L183.42 233.07 L184.62 233.12 L185.82 233.18 L187.02 233.23 L188.22 233.29 L189.42 233.35 L190.62 233.42 L191.82 233.48 L193.02 233.55 L194.22 233.62 L195.42 233.69 L196.62 233.77 L197.82 233.84 L199.02 233.93 L200.22 234.02 L201.42 234.11 L202.61 234.20 L203.81 234.30 L205.01 234.41 L206.21 234.52 L207.40 234.64 L208.60 234.77 L209.79 234.90 L210.99 235.03 L212.18 235.18 L213.38 235.33 L214.57 235.49 L215.76 235.66 L216.95 235.84 L218.14 236.03 L219.32 236.22 L220.51 236.43 L221.69 236.66 L222.87 236.89 L224.04 237.14 L225.22 237.39 L226.39 237.66 L227.56 237.94 L228.72 238.23 L229.89 238.53 L231.05 238.83 L232.21 239.14 L233.38 239.45 L234.54 239.76 L235.70 240.08 L236.86 240.39 L238.02 240.71 L239.18 241.02 L240.34 241.33 L241.51 241.64 L242.67 241.94 L243.83 242.24 L245.00 242.54 L246.16 242.83 L247.33 243.12 L248.50 243.40 L249.67 243.68 L250.84 243.95 L252.01 244.22 L253.19 244.48 L254.36 244.73 L255.54 244.98 L256.71 245.23 L257.89 245.48 L259.07 245.73 L260.24 245.99 L261.41 246.25 L262.58 246.53 L263.75 246.81 L264.92 247.10 L266.08 247.41 L267.23 247.73 L268.39 248.06 L269.54 248.41 L270.69 248.76 L271.84 249.13 L272.98 249.50 L274.12 249.88 L275.26 250.26 L276.40 250.66 L277.54 251.05 L278.67 251.46 L279.80 251.86 L280.93 252.27 L282.07 252.68 L283.20 253.09 L284.33 253.50 L285.46 253.91 L286.59 254.31 L287.72 254.72 L288.86 255.12 L289.99 255.51 L291.13 255.90 L292.27 256.29 L293.41 256.66 L294.55 257.03 L295.70 257.39 L296.85 257.74 L298.00 258.09 L299.15 258.43 L300.30 258.77 L301.46 259.10 L302.61 259.43 L303.77 259.77 L304.93 260.10 L306.08 260.43 L307.24 260.77 L308.39 261.10 L309.54 261.45 L310.70 261.79 L311.85 262.14 L313.00 262.50 L314.14 262.86 L315.29 263.22 L316.43 263.59 L317.57 263.97 L318.71 264.36 L319.85 264.75 L320.98 265.15 L322.11 265.55 L323.24 265.97 L324.37 266.39 L325.49 266.82 L326.61 267.26 L327.73 267.70 L328.85 268.14 L329.96 268.59 L331.08 269.04 L332.19 269.49 L333.31 269.94 L334.42 270.40 L335.54 270.85 L336.65 271.30 L337.77 271.74 L338.89 272.18 L340.01 272.62 L341.13 273.05 L342.25 273.47 L343.38 273.89 L344.51 274.30 L345.64 274.71 L346.77 275.12 L347.91 275.52 L349.04 275.91 L350.18 276.30 L351.31 276.67 L352.45 277.04 L353.59 277.41 L354.73 277.78 L355.87 278.15 L357.00 278.51 L358.14 278.88 L359.28 279.25 L360.42 279.62 L361.55 280.00 L362.69 280.37 L363.82 280.75 L364.96 281.13 L366.09 281.51 L367.22 281.90 L368.35 282.29 L369.48 282.68 L370.61 283.07 L371.74 283.47 L372.87 283.86 L373.99 284.26 L375.12 284.67 L376.24 285.07 L377.37 285.47 L378.49 285.88 L379.61 286.29 L380.74 286.71 L381.86 287.12 L382.98 287.54 L384.10 287.96 L385.22 288.38 L386.34 288.81 L387.46 289.23 L388.58 289.65 L389.70 290.06 L390.83 290.48 L391.95 290.89 L393.07 291.30 L394.20 291.71 L395.32 292.12 L396.45 292.53 L397.57 292.94 L398.70 293.35 L399.82 293.76 L400.95 294.16 L402.07 294.58 L403.20 294.99 L404.32 295.40 L405.44 295.82 L406.56 296.24 L407.68 296.66 L408.80 297.08 L409.92 297.51 L411.03 297.95 L412.15 298.39 L413.26 298.83 L414.37 299.27 L415.48 299.72 L416.58 300.18 L417.69 300.64 L418.79 301.10 L419.90 301.56 L421.00 302.03 L422.10 302.50 L423.20 302.97 L424.29 303.45 L425.39 303.93 L426.48 304.41 L427.58 304.90 L428.67 305.38 L429.76 305.87 L430.86 306.36 L431.95 306.85 L433.04 307.35 L434.13 307.84 L435.22 308.33 L436.31 308.82 L437.40 309.31 L438.49 309.79 L439.59 310.27 L440.69 310.73 L441.79 311.17 L442.89 311.61 L444.00 312.05 L445.11 312.48 L446.22 312.90 L447.33 313.33 L448.44 313.75 L449.55 314.17 L450.66 314.59 L451.77 315.01 L452.89 315.43 L454.00 315.85 L455.11 316.27 L456.22 316.70 L457.33 317.13 L458.43 317.56 L459.54 317.99 L460.64 318.44 L461.75 318.89 L462.85 319.35 L463.96 319.80 L465.07 320.25 L466.17 320.71 L467.28 321.15 L468.39 321.60 L469.50 322.03 L470.61 322.47 L471.73 322.90 L472.85 323.32 L473.96 323.74 L475.08 324.15 L476.21 324.57 L477.33 324.98 L478.45 325.38 L479.58 325.79 L480.70 326.20 L481.83 326.60 L482.95 327.01 L484.08 327.41 L485.20 327.82 L486.32 328.23 L487.44 328.65 L488.56 329.06 L489.68 329.48 L490.80 329.91 L491.92 330.36 L493.04 330.80 L494.15 331.25 L495.27 331.69 L496.38 332.14 L497.50 332.59 L498.61 333.04 L499.73 333.49 L500.84 333.94 L501.96 334.39 L503.07 334.83 L504.19 335.28 L505.30 335.73 L506.42 336.17 L507.54 336.62 L508.65 337.06 L509.77 337.51 L510.88 337.95 L512.00 338.40" stroke="#008000" stroke-opacity="0.55" stroke-width="3.4"/>
</g>
<g font-family='"Liberation Sans", sans-serif' font-weight="bold" font-size="15.5"><text x="471" y="273.8">3p1</text><text x="430" y="333">3p2</text><text x="496.3" y="326.2">4p</text></g>
<path d="M82.5 36.7 H115.8" stroke="#333" stroke-width="2"/><circle cx="99.3" cy="36.7" r="2.8" fill="#404040"/>
<path d="M82.5 54.6 H116" stroke="#800080" stroke-width="2"/><path fill="#800080" d="M99.30 51.00 L102.80 56.80 L95.80 56.80Z"/>
<g font-family='"Liberation Sans", sans-serif' font-weight="bold" font-size="14.4"><text x="119.5" y="41.6">SRIM</text><text x="119.5" y="59.5">emp. (forward dir.)</text></g>
<text x="466" y="30.6" font-family='"Liberation Sans", sans-serif' font-weight="bold" font-size="14.4">SRIMcor</text>
<path d="M463.9 44.3 H497.4" stroke="#d40000" stroke-width="2" stroke-dasharray="9 4.5 2.5 5 2.5 4.5"/><text x="501" y="49.2" font-family='"Liberation Sans", sans-serif' font-weight="bold" font-size="14.4">Cu</text><path d="M463.9 62.3 H497.4" stroke="#8000ff" stroke-width="2" stroke-dasharray="9.5 9.5"/><text x="501" y="67.2" font-family='"Liberation Sans", sans-serif' font-weight="bold" font-size="14.4">Ge</text><path d="M463.9 80.3 H497.4" stroke="#800080" stroke-width="2" stroke-dasharray="11 4.8 3 4.8"/><text x="501" y="85.2" font-family='"Liberation Sans", sans-serif' font-weight="bold" font-size="14.4">Br</text><path d="M464.8 98.3 H497.4" stroke="#006400" stroke-width="2.8" stroke-dasharray="0 5" stroke-linecap="round"/><text x="501" y="103.2" font-family='"Liberation Sans", sans-serif' font-weight="bold" font-size="14.4">Kr</text><path d="M463.9 116.3 H497.4" stroke="#0000ff" stroke-width="2" stroke-dasharray="7.5 3 2 2.5"/><text x="501" y="121.2" font-family='"Liberation Sans", sans-serif' font-weight="bold" font-size="14.4">Pb</text><path d="M463.9 134.3 H497.4" stroke="#008080" stroke-width="2" stroke-dasharray="5 3.4"/><text x="501" y="139.2" font-family='"Liberation Sans", sans-serif' font-weight="bold" font-size="14.4">U</text><path d="M464.9 152.3 H496.3" stroke="#e87878" stroke-width="3.6" stroke-linecap="round"/><text x="501" y="157.2" font-family='"Liberation Sans", sans-serif' font-weight="bold" font-size="14.4">3p1</text><path d="M464.9 170.3 H496.3" stroke="#7080e0" stroke-width="3.6" stroke-linecap="round"/><text x="501" y="175.2" font-family='"Liberation Sans", sans-serif' font-weight="bold" font-size="14.4">3p2</text><path d="M464.9 188.3 H496.3" stroke="#70b870" stroke-width="3.6" stroke-linecap="round"/><text x="501" y="193.2" font-family='"Liberation Sans", sans-serif' font-weight="bold" font-size="14.4">4p</text>
</svg>
</body></html>
